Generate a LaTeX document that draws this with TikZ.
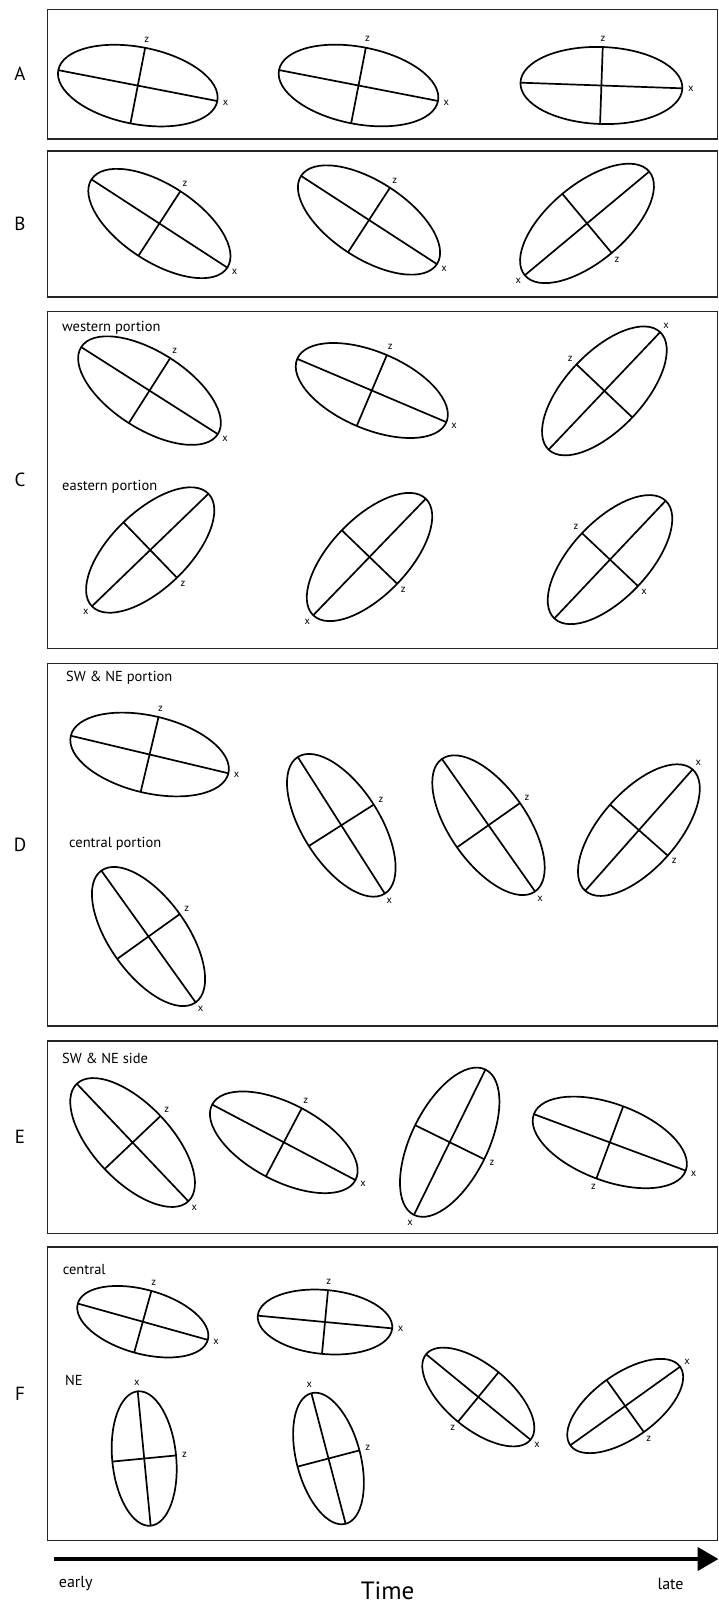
\documentclass[tikz,border=0pt]{standalone}
\usepackage{fontspec}
\setmainfont{PT Sans}
\usetikzlibrary{arrows.meta,calc}

\def\semia{81}
\def\semib{38.5}
% strain ellipse: name, centre x, centre y, angle, end for x, end for z
\newcommand{\strainell}[6]{%
  \begin{scope}[shift={(#2,#3)}, rotate=#4]
    \draw[ellline] (0,0) ellipse [x radius=\semia, y radius=\semib];
    \draw[ellline] (-\semia,0) coordinate (#1-m) -- (\semia,0) coordinate (#1-p);
    \draw[ellline] (0,-\semib) coordinate (#1-u) -- (0,\semib) coordinate (#1-d);
    \coordinate (#1-c) at (0,0);
  \end{scope}
  \node[axislabel] (#1x) at ($(#1-#5)!-8.5pt!(#1-c)$) {x};
  \node[axislabel] (#1z) at ($(#1-#6)!-8.5pt!(#1-c)$) {z};
}

\begin{document}
\begin{tikzpicture}[x=1pt, y=-1pt,
  ellline/.style={line width=1.7pt},
  panelbox/.style={draw=black!85, line width=1.6pt},
  axislabel/.style={font=\fontsize{10.5}{12}\selectfont, inner sep=0pt},
  rowlabel/.style={font=\fontsize{19}{22}\selectfont, inner sep=0pt},
  subnote/.style={anchor=west, inner sep=0pt, font=\fontsize{14.5}{16}\selectfont}]
\useasboundingbox (0,0) rectangle (719,1604);

% panels
\draw[panelbox] (47.5,9.3) rectangle (717.5,139);
\draw[panelbox] (47.5,151) rectangle (717.5,297);
\draw[panelbox] (47.5,311.5) rectangle (717.5,648.3);
\draw[panelbox] (47.5,663.3) rectangle (717.5,1026);
\draw[panelbox] (47.5,1041) rectangle (717.5,1233.5);
\draw[panelbox] (47.5,1246.7) rectangle (717.5,1540.5);

\node[rowlabel] (labA) at (20,74) {A};
\node[rowlabel] (labB) at (20,224) {B};
\node[rowlabel] (labC) at (20,480) {C};
\node[rowlabel] (labD) at (20,845) {D};
\node[rowlabel] (labE) at (20,1137) {E};
\node[rowlabel] (labF) at (20,1393.5) {F};

% A
\strainell{a1}{137.8}{85.6}{-11}{p}{u}
\strainell{a2}{358.5}{85.5}{-11}{p}{u}
\strainell{a3}{601.4}{85.5}{-2}{p}{u}

% B
\strainell{b1}{159.4}{223.5}{-33}{p}{u}
\strainell{b2}{369}{220}{-33}{p}{u}
\strainell{b3}{587}{223.4}{39.8}{m}{d}

% C
\node[subnote] (west) at (62,328) {western portion};
\node[subnote] (east) at (62,486.7) {eastern portion};
\strainell{c1}{149.5}{390.6}{-32.5}{p}{u}
\strainell{c2}{371.8}{390.5}{-23}{p}{u}
\strainell{c3}{604.4}{390.9}{46.5}{p}{u}
\strainell{c4}{150.2}{550}{44}{m}{d}
\strainell{c5}{369.5}{557}{46}{m}{d}
\strainell{c6}{610}{559.6}{46.6}{d}{u}

% D
\node[subnote] (swne) at (66,677.3) {SW \& NE portion};
\node[subnote] (cent) at (69,844.3) {central portion};
\strainell{d1}{149.6}{754.5}{-13.4}{p}{u}
\strainell{d2}{341.3}{825.3}{-57.5}{p}{u}
\strainell{d3}{488.5}{825.2}{-54.9}{p}{u}
\strainell{d4}{638.9}{830.1}{48.5}{p}{d}
\strainell{d5}{148.5}{936.5}{-54.4}{p}{u}

% E
\node[subnote] (side) at (62,1058.3) {SW \& NE side};
\strainell{e1}{132.6}{1142.5}{-46.5}{p}{u}
\strainell{e2}{283.8}{1142.3}{-27.8}{p}{u}
\strainell{e3}{449.7}{1142.2}{63.8}{m}{d}
\strainell{e4}{609.8}{1142.4}{-20.4}{p}{d}

% F
\def\semia{67.5}
\def\semib{32}
\node[subnote] (fcent) at (62.7,1269) {central};
\node[subnote] (fne) at (65,1380.7) {NE};
\strainell{f1}{142.8}{1321.7}{-15.6}{p}{u}
\strainell{f2}{325}{1322}{-5.4}{p}{u}
\strainell{f3}{144.2}{1458.5}{-84.5}{m}{u}
\strainell{f4}{328.5}{1458.5}{-75.3}{m}{u}
\strainell{f5}{478.3}{1397}{-39.3}{p}{d}
\strainell{f6}{625.2}{1406}{35.6}{p}{d}

% time axis
\coordinate (tstart) at (54,1559);
\coordinate (tend) at (718.5,1559);
\draw[line width=4.5pt, -{Triangle[length=21pt,width=23pt]}] (tstart) -- (tend);
\node[font=\fontsize{16}{18}\selectfont] (early) at (75.7,1584) {early};
\node[font=\fontsize{25}{28}\selectfont] (time) at (387.6,1591) {Time};
\node[font=\fontsize{16}{18}\selectfont] (late) at (670.6,1584) {late};
\end{tikzpicture}
\end{document}
